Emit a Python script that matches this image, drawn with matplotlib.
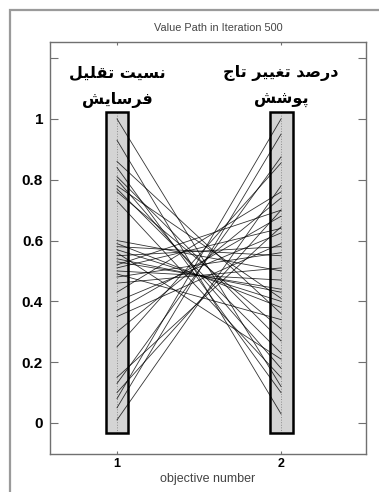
import numpy as np
import matplotlib
matplotlib.use("Agg")
import matplotlib.pyplot as plt
from matplotlib.patches import Rectangle

# objective values of each solution (objective 1 -> objective 2)
obj1 = [1.00, 0.93, 0.86, 0.84, 0.81, 0.80, 0.78, 0.77, 0.76, 0.73,
        0.01, 0.05, 0.08, 0.10, 0.13, 0.15, 0.25, 0.30, 0.35, 0.37, 0.40, 0.43,
        0.59, 0.58, 0.56, 0.55, 0.53, 0.51, 0.50, 0.49, 0.46, 0.52, 0.57,
        0.48, 0.54, 0.60]
obj2 = [0.12, 0.03, 0.36, 0.10, 0.27, 0.18, 0.41, 0.23, 0.31, 0.15,
        0.78, 0.95, 1.00, 0.70, 0.875, 0.645, 0.855, 0.74, 0.59, 0.68, 0.625, 0.76,
        0.38, 0.55, 0.21, 0.58, 0.44, 0.64, 0.47, 0.34, 0.51, 0.70, 0.40,
        0.56, 0.43, 0.50]

objectives = [1, 2]
bar_low = [-0.033, -0.033]
bar_high = [1.023, 1.023]
obj_names = [["نسیت تقلیل", "فرسایش"], ["درصد تغییر تاج", "پوشش"]]
yticks = [0, 0.2, 0.4, 0.6, 0.8, 1.0, 1.2]
ytick_labels = ["0", "0.2", "0.4", "0.6", "0.8", "1", ""]

# simple persian shaping: presentation forms (isol, fin, ini, med)
FORMS = {
    "ن": ("\uFEE5", "\uFEE6", "\uFEE7", "\uFEE8"),
    "س": ("\uFEB1", "\uFEB2", "\uFEB3", "\uFEB4"),
    "ی": ("\uFBFC", "\uFBFD", "\uFBFE", "\uFBFF"),
    "ت": ("\uFE95", "\uFE96", "\uFE97", "\uFE98"),
    "ب": ("\uFE8F", "\uFE90", "\uFE91", "\uFE92"),
    "ق": ("\uFED5", "\uFED6", "\uFED7", "\uFED8"),
    "ل": ("\uFEDD", "\uFEDE", "\uFEDF", "\uFEE0"),
    "ف": ("\uFED1", "\uFED2", "\uFED3", "\uFED4"),
    "ش": ("\uFEB5", "\uFEB6", "\uFEB7", "\uFEB8"),
    "ص": ("\uFEB9", "\uFEBA", "\uFEBB", "\uFEBC"),
    "غ": ("\uFECD", "\uFECE", "\uFECF", "\uFED0"),
    "ج": ("\uFE9D", "\uFE9E", "\uFE9F", "\uFEA0"),
    "پ": ("\uFB56", "\uFB57", "\uFB58", "\uFB59"),
    "ر": ("\uFEAD", "\uFEAE"),
    "ا": ("\uFE8D", "\uFE8E"),
    "د": ("\uFEA9", "\uFEAA"),
    "و": ("\uFEED", "\uFEEE"),
}


def shape(text):
    out = []
    for i, ch in enumerate(text):
        if ch not in FORMS:
            out.append(ch)
            continue
        prev = text[i - 1] if i > 0 else None
        nxt = text[i + 1] if i + 1 < len(text) else None
        join_prev = prev in FORMS and len(FORMS[prev]) == 4
        join_next = len(FORMS[ch]) == 4 and nxt in FORMS
        f = FORMS[ch]
        if join_prev and join_next:
            out.append(f[3])
        elif join_prev:
            out.append(f[1])
        elif join_next:
            out.append(f[2])
        else:
            out.append(f[0])
    return "".join(out)[::-1]


fig = plt.figure(figsize=(3.79, 4.92), dpi=100)
fig.patch.set_facecolor("white")
ax = fig.add_axes([50 / 379, 1 - 454 / 492, 316 / 379, 412 / 492])

# outer frame
fig.add_artist(Rectangle((10 / 379, -0.1), 1.2, 1 - 10 / 492 + 0.1,
                         transform=fig.transFigure, fill=False,
                         edgecolor="#9a9a9a", linewidth=1.6))

width = 0.14
heights = [h - l for h, l in zip(bar_high, bar_low)]
ax.bar(objectives, heights, bottom=bar_low, width=width, color="#d4d4d4",
       edgecolor="none", zorder=1)
ax.vlines(objectives, bar_low, bar_high, colors="#8c8c8c", linestyles=":",
          linewidth=0.7, zorder=1.5)

for a, b in zip(obj1, obj2):
    ax.plot(objectives, [a, b], color="black", linewidth=0.6, alpha=0.8, zorder=2)

ax.bar(objectives, heights, bottom=bar_low, width=width, fill=False,
       edgecolor="black", linewidth=1.8, zorder=3)

for x, (l1, l2) in zip(objectives, obj_names):
    ax.text(x, 1.151, shape(l1), ha="center", va="center", fontsize=11.5,
            fontweight="bold", family="DejaVu Sans")
    ax.text(x, 1.062, shape(l2), ha="center", va="center", fontsize=11.5,
            fontweight="bold", family="DejaVu Sans")

ax.set_xlim(0.5915, 2.518)
ax.set_ylim(-0.102, 1.253)
ax.set_xticks(objectives)
ax.set_xticklabels(["1", "2"], fontsize=9, fontweight="bold",
                   family="Liberation Sans")
ax.set_yticks(yticks)
ax.set_yticklabels(ytick_labels, fontsize=11, fontweight="bold",
                   family="Liberation Sans")
ax.tick_params(axis="y", direction="in", length=5.5, width=0.8, color="#707070",
               left=True, right=True, pad=5)
ax.tick_params(axis="x", direction="in", length=2.5, width=0.8, color="#707070",
               bottom=True, top=True, pad=3)
for s in ax.spines.values():
    s.set_color("#707070")
    s.set_linewidth(1.0)

ax.set_xlabel("objective number", fontsize=9, color="#444444", labelpad=2,
              family="Liberation Sans")
fig.text(218 / 379, 1 - 28 / 492, "Value Path in Iteration 500", ha="center",
         va="center", fontsize=7.8, color="#444444", family="Liberation Sans")

fig.savefig("out.png", dpi=100, facecolor="white")
